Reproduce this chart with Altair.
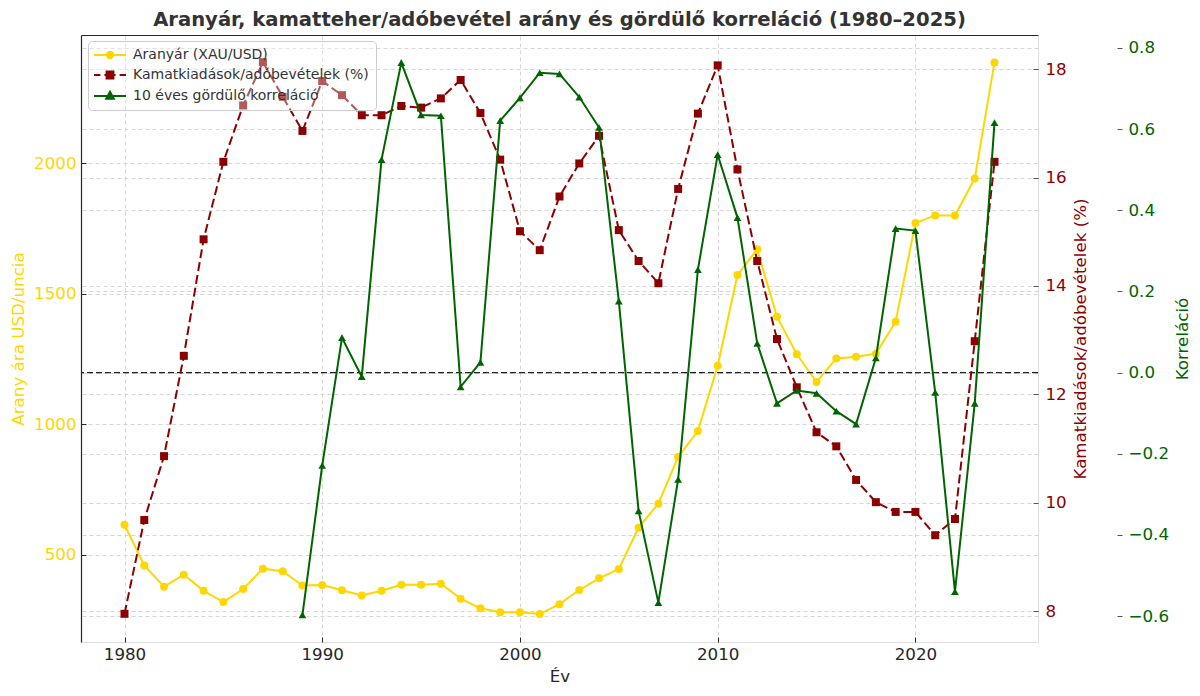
import altair as alt
import pandas as pd

# ---------------- data ----------------
years = list(range(1980, 2025))
gold_price = [615, 459, 378, 424, 362, 319, 369, 447, 437, 382,
              384, 364, 344, 362, 385, 385, 389, 332, 295, 280,
              280, 273, 311, 365, 410, 446, 604, 696, 875, 974,
              1224, 1572, 1670, 1412, 1268, 1162, 1252, 1259, 1270, 1393,
              1771, 1800, 1800, 1941, 2386]
interest_ratio = [7.95, 9.68, 10.86, 12.71, 14.86, 16.29, 17.33, 18.13, 17.49, 16.86,
                  17.78, 17.52, 17.15, 17.15, 17.32, 17.29, 17.46, 17.80, 17.19, 16.33,
                  15.01, 14.66, 15.65, 16.26, 16.77, 15.03, 14.46, 14.05, 15.79, 17.18,
                  18.07, 16.15, 14.46, 13.02, 12.13, 11.30, 11.04, 10.42, 10.01, 9.83,
                  9.83, 9.40, 9.70, 12.98, 16.29]
corr_years = list(range(1989, 2025))
rolling_corr = [-0.597, -0.229, 0.086, -0.010, 0.525, 0.764, 0.635, 0.633, -0.035, 0.025,
                0.621, 0.677, 0.739, 0.736, 0.679, 0.604, 0.176, -0.341, -0.567, -0.263,
                0.254, 0.537, 0.382, 0.072, -0.076, -0.044, -0.051, -0.095, -0.127, 0.036,
                0.355, 0.350, -0.049, -0.540, -0.076, 0.616]

series_names = ["Aranyár (XAU/USD)", "Kamatkiadások/adóbevételek (%)", "10 éves gördülő korreláció"]
series_colors = ["#FFD700", "#8B0000", "#006400"]
x_ticks = [1980, 1990, 2000, 2010, 2020]
gold_ticks = [500, 1000, 1500, 2000]
ratio_ticks = [8, 10, 12, 14, 16, 18]
corr_ticks = [-0.6, -0.4, -0.2, 0.0, 0.2, 0.4, 0.6, 0.8]

title_text = "Aranyár, kamatteher/adóbevétel arány és gördülő korreláció (1980–2025)"

FONT = "DejaVu Sans"
DARK = "#262626"
GRID = "#cccccc"
GRID_DASH = [4, 3]
FS = 16.7

gold_df = pd.DataFrame({"year": years, "v": gold_price})
ratio_df = pd.DataFrame({"year": years, "v": interest_ratio})
corr_df = pd.DataFrame({"year": corr_years, "v": rolling_corr})
zero_df = pd.DataFrame({"z": [0.0]})
legend_df = pd.DataFrame({"series": pd.Series([], dtype=str)})

x_scale = alt.Scale(domain=[1977.8, 2026.2], nice=False, zero=False)
gold_scale = alt.Scale(domain=[166, 2491], nice=False, zero=False)
ratio_scale = alt.Scale(domain=[7.43, 18.63], nice=False, zero=False)
corr_scale = alt.Scale(domain=[-0.664, 0.832], nice=False, zero=False)

# x axes: one for ticks/labels/title (inward ticks), one for spine+grid
x_axis_ticks = alt.Axis(values=x_ticks, format="d", grid=False, domain=False,
                        ticks=True, tickSize=5, tickColor=DARK, tickWidth=1,
                        offset=-5, labelPadding=4, labelFontSize=FS, labelColor=DARK,
                        labelFont=FONT, title="Év", titleFontSize=FS, titleColor=DARK,
                        titleFont=FONT, titleFontWeight="normal", titlePadding=6)
x_axis_spine = alt.Axis(values=x_ticks, domain=True, domainColor=DARK, domainWidth=1.2,
                        ticks=False, labels=False, title=None, grid=True,
                        gridColor=GRID, gridDash=GRID_DASH, gridWidth=0.8)

X_t = alt.X("year:Q", scale=x_scale, axis=x_axis_ticks)
X_s = alt.X("year:Q", scale=x_scale, axis=x_axis_spine)
X_n = alt.X("year:Q", scale=x_scale, axis=None)

# ---- gold ----
gold_line = alt.Chart(gold_df).mark_line(color=series_colors[0], strokeWidth=2).encode(
    x=X_t,
    y=alt.Y("v:Q", scale=gold_scale, axis=alt.Axis(
        orient="left", values=gold_ticks, format="d", offset=-5, domain=False,
        tickSize=5, tickColor=DARK, tickWidth=1, grid=False,
        labelColor=series_colors[0], labelFontSize=FS, labelFont=FONT, labelPadding=5,
        title="Arany ára USD/uncia", titleColor=series_colors[0], titleFontSize=FS,
        titleFont=FONT, titleFontWeight="normal", titlePadding=6)),
)
gold_pts = alt.Chart(gold_df).mark_point(filled=True, shape="circle", size=64,
                                         color=series_colors[0], opacity=1).encode(
    x=X_s,
    y=alt.Y("v:Q", scale=gold_scale, axis=alt.Axis(
        orient="left", values=gold_ticks, domain=True, domainColor=DARK, domainWidth=1.2,
        ticks=False, labels=False, title=None, grid=True,
        gridColor=GRID, gridDash=GRID_DASH, gridWidth=0.8)),
)

# ---- ratio ----
ratio_line = alt.Chart(ratio_df).mark_line(color=series_colors[1], strokeWidth=2,
                                           strokeDash=[9, 4]).encode(
    x=X_n,
    y=alt.Y("v:Q", scale=ratio_scale, axis=alt.Axis(
        orient="right", values=ratio_ticks, format="d", offset=-5, domain=False,
        tickSize=5, tickColor="#555555", tickWidth=1, grid=False,
        labelColor=series_colors[1], labelFontSize=FS, labelFont=FONT, labelPadding=7,
        title="Kamatkiadások/adóbevételek (%)", titleColor=series_colors[1],
        titleFontSize=FS, titleFont=FONT, titleFontWeight="normal",
        titleAngle=270, titlePadding=23)),
)
ratio_pts = alt.Chart(ratio_df).mark_point(filled=True, shape="square", size=64,
                                           color=series_colors[1], opacity=1).encode(
    x=X_n,
    y=alt.Y("v:Q", scale=ratio_scale, axis=alt.Axis(
        orient="right", values=ratio_ticks, domain=False, ticks=False, labels=False,
        title=None, grid=True, gridColor=GRID, gridDash=GRID_DASH, gridWidth=0.8)),
)

# ---- correlation ----
corr_line = alt.Chart(corr_df).mark_line(color=series_colors[2], strokeWidth=2).encode(
    x=X_n,
    y=alt.Y("v:Q", scale=corr_scale, axis=alt.Axis(
        orient="right", values=corr_ticks, format=".1f", offset=79, domain=False,
        tickSize=5, tickColor="#555555", tickWidth=1, grid=False,
        labelColor=series_colors[2], labelFontSize=FS, labelFont=FONT, labelPadding=6,
        title="Korreláció", titleColor=series_colors[2], titleFontSize=FS,
        titleFont=FONT, titleFontWeight="normal", titleAngle=270, titlePadding=23)),
)
corr_pts = alt.Chart(corr_df).mark_point(filled=True, shape="triangle-up", size=60,
                                         color=series_colors[2], opacity=1).encode(
    x=X_n,
    y=alt.Y("v:Q", scale=corr_scale, axis=alt.Axis(
        orient="right", values=corr_ticks, domain=False, ticks=False, labels=False,
        title=None, grid=True, gridColor=GRID, gridDash=GRID_DASH, gridWidth=0.8)),
)

zero_rule = alt.Chart(zero_df).mark_rule(color="#222222", strokeWidth=1.3,
                                         strokeDash=[6, 3]).encode(
    y=alt.Y("z:Q", scale=corr_scale, axis=None)
)

# ---- legend (symbols: line + marker drawn as custom paths) ----
legend_shapes = [
    "M-4,0H4M-0.8,0A0.8,0.8 0 1 0 0.8,0A0.8,0.8 0 1 0 -0.8,0Z",
    "M-4,0H-2.4M-1.4,0H1.4M2.4,0H4M-0.85,-0.85H0.85V0.85H-0.85Z",
    "M-4,0H4M0,-1.05L0.95,0.7L-0.95,0.7Z",
]
leg = alt.Legend(orient="none", legendX=7, legendY=6, title=None, padding=7,
                 rowPadding=4, symbolOffset=8, labelOffset=16, symbolSize=64,
                 symbolStrokeWidth=2, strokeColor="#cccccc",
                 fillColor="rgba(255,255,255,0.35)", cornerRadius=4,
                 labelFont=FONT, labelFontSize=14, labelColor="#333333", labelLimit=400)
legend_layer = alt.Chart(legend_df).mark_point(filled=True, size=64, opacity=1,
                                               strokeWidth=2).encode(
    fill=alt.Fill("series:N", scale=alt.Scale(domain=series_names, range=series_colors), legend=leg),
    stroke=alt.Stroke("series:N", scale=alt.Scale(domain=series_names, range=series_colors), legend=leg),
    shape=alt.Shape("series:N", scale=alt.Scale(domain=series_names, range=legend_shapes), legend=leg),
)

chart = alt.layer(
    gold_line, gold_pts, zero_rule, ratio_line, ratio_pts, corr_line, corr_pts, legend_layer
).resolve_scale(
    y="independent"
).resolve_axis(
    x="independent", y="independent"
).properties(
    width=957, height=607,
    padding={"left": 73, "top": 27, "right": 154, "bottom": 46},
    autosize=alt.AutoSizeParams(type="none"),
    title=alt.TitleParams(title_text, font=FONT, fontSize=19.6, fontWeight="bold",
                          color="#333333", anchor="middle", frame="group", offset=4),
).configure_view(
    stroke=None
).configure(
    background="white"
)

chart.save("out.html", embed_options={"renderer": "svg", "actions": False})
